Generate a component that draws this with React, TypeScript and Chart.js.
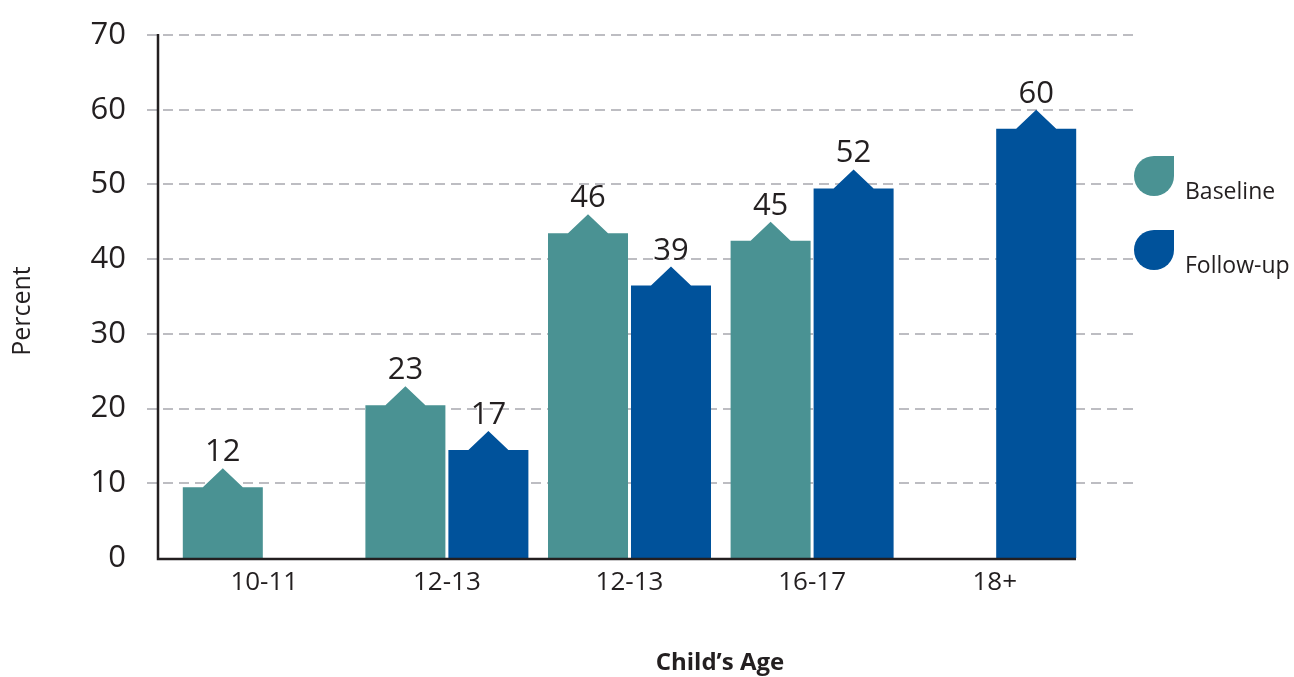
import React, { useEffect, useRef } from 'react';
import { Chart, registerables } from 'chart.js';

Chart.register(...registerables);

// ---- Data ----
const categories = ['10-11', '12-13', '12-13', '16-17', '18+'];
const baselineValues: (number | null)[] = [12, 23, 46, 45, null];
const followUpValues: (number | null)[] = [null, 17, 39, 52, 60];
const seriesLabels = ['Baseline', 'Follow-up'];
const yTickValues = [0, 10, 20, 30, 40, 50, 60, 70];
const yTitle = 'Percent';
const xTitle = 'Child\u2019s Age';

// ---- Styles ----
const seriesColors = ['#4A9293', '#00529B'];
const FONT = '"Open Sans", "Noto Sans", "DejaVu Sans", sans-serif';
const TEXT = '#231F20';
const GRID = '#BDBDC2';
const TIP_H = 19;

const customDraw = {
  id: 'customDraw',
  beforeDatasetsDraw(chart: any) {
    const { ctx, chartArea, scales } = chart;
    const y = scales.y;
    ctx.save();
    ctx.strokeStyle = GRID;
    ctx.lineWidth = 2;
    ctx.setLineDash([10, 6]);
    y.ticks.forEach((t: any) => {
      if (t.value === 0) return;
      const py = Math.round(y.getPixelForValue(t.value));
      ctx.beginPath();
      ctx.moveTo(chartArea.left - 26, py);
      ctx.lineTo(chartArea.right + 50, py);
      ctx.stroke();
    });
    ctx.restore();
  },
  beforeDatasetDraw(chart: any, args: any) {
    const { ctx } = chart;
    const ds = chart.data.datasets[args.index];
    const meta = args.meta;
    ctx.save();
    ctx.fillStyle = ds.backgroundColor;
    meta.data.forEach((el: any, i: number) => {
      const v = ds.data[i];
      if (v === null || v === undefined) return;
      const { x, y, base, width } = el.getProps(['x', 'y', 'base', 'width'], true);
      if (!isFinite(y)) return;
      const l = x - width / 2;
      const r = x + width / 2;
      const sh = y + TIP_H;
      ctx.beginPath();
      ctx.moveTo(l, base);
      ctx.lineTo(l, sh);
      ctx.lineTo(x - width / 4, sh);
      ctx.lineTo(x, y);
      ctx.lineTo(x + width / 4, sh);
      ctx.lineTo(r, sh);
      ctx.lineTo(r, base);
      ctx.closePath();
      ctx.fill();
    });
    ctx.restore();
    return false;
  },
  afterDatasetsDraw(chart: any) {
    const { ctx, chartArea } = chart;
    ctx.save();
    // axis lines
    ctx.strokeStyle = TEXT;
    ctx.lineWidth = 2.5;
    ctx.beginPath();
    ctx.moveTo(chartArea.left - 15, chartArea.top - 1);
    ctx.lineTo(chartArea.left - 15, chartArea.bottom + 1);
    ctx.lineTo(chartArea.right - 10, chartArea.bottom + 1);
    ctx.stroke();

    // value labels
    ctx.fillStyle = TEXT;
    ctx.font = `31px ${FONT}`;
    ctx.textAlign = 'center';
    ctx.textBaseline = 'alphabetic';
    chart.data.datasets.forEach((ds: any, di: number) => {
      const meta = chart.getDatasetMeta(di);
      meta.data.forEach((el: any, i: number) => {
        const v = ds.data[i];
        if (v === null || v === undefined) return;
        ctx.fillText(String(v), el.x, el.y - 7);
      });
    });

    // legend
    chart.data.datasets.forEach((ds: any, di: number) => {
      const cx = chartArea.right + 68;
      const cy = 176 + di * 74;
      const rr = 20;
      ctx.fillStyle = ds.backgroundColor;
      ctx.beginPath();
      ctx.moveTo(cx + rr, cy - rr);
      ctx.lineTo(cx + rr, cy);
      ctx.arc(cx, cy, rr, 0, Math.PI * 1.5);
      ctx.closePath();
      ctx.fill();
      ctx.fillStyle = TEXT;
      ctx.font = `23px ${FONT}`;
      ctx.textAlign = 'left';
      ctx.fillText(ds.label, cx + rr + 11, cy + rr + 3);
    });

    // axis titles
    ctx.fillStyle = TEXT;
    ctx.font = `25px ${FONT}`;
    ctx.textAlign = 'center';
    ctx.textBaseline = 'middle';
    ctx.save();
    ctx.translate(23, 311);
    ctx.rotate(-Math.PI / 2);
    ctx.fillText(yTitle, 0, 0);
    ctx.restore();
    ctx.font = `bold 24px ${FONT}`;
    ctx.fillText(xTitle, 720, 663);
    ctx.restore();
  },
};

export default function App() {
  const ref = useRef<HTMLCanvasElement | null>(null);
  useEffect(() => {
    if (!ref.current) return;
    const chart = new Chart(ref.current, {
      type: 'bar',
      data: {
        labels: categories,
        datasets: [
          { label: seriesLabels[0], data: baselineValues, backgroundColor: seriesColors[0] },
          { label: seriesLabels[1], data: followUpValues, backgroundColor: seriesColors[1] },
        ],
      },
      options: {
        responsive: false,
        animation: false,
        devicePixelRatio: 1,
        layout: { padding: { top: 35, right: 208, left: 0, bottom: 0 } },
        datasets: { bar: { categoryPercentage: 0.909, barPercentage: 0.964 } },
        plugins: { legend: { display: false }, tooltip: { enabled: false }, title: { display: false } },
        scales: {
          x: {
            type: 'category',
            grid: { display: false, drawTicks: false },
            border: { display: false },
            ticks: { color: TEXT, font: { family: FONT, size: 26 }, padding: 9, maxRotation: 0, autoSkip: false },
            afterFit: (s: any) => { s.height = 119; s.paddingLeft = 0; s.paddingRight = 0; },
          },
          y: {
            min: 0,
            max: 70,
            grid: { display: false, drawTicks: false },
            border: { display: false },
            afterBuildTicks: (s: any) => { s.ticks = yTickValues.map((v) => ({ value: v })); },
            ticks: { color: TEXT, font: { family: FONT, size: 31 }, padding: 47 },
            afterFit: (s: any) => { s.width = 173; s.paddingTop = 0; s.paddingBottom = 0; },
          },
        },
      } as any,
      plugins: [customDraw],
    });
    return () => chart.destroy();
  }, []);
  return (
    <div style={{ position: 'absolute', left: 0, top: 0, width: 1294, height: 677, background: '#fff' }}>
      <canvas ref={ref} width={1294} height={677} style={{ display: 'block' }} />
    </div>
  );
}
